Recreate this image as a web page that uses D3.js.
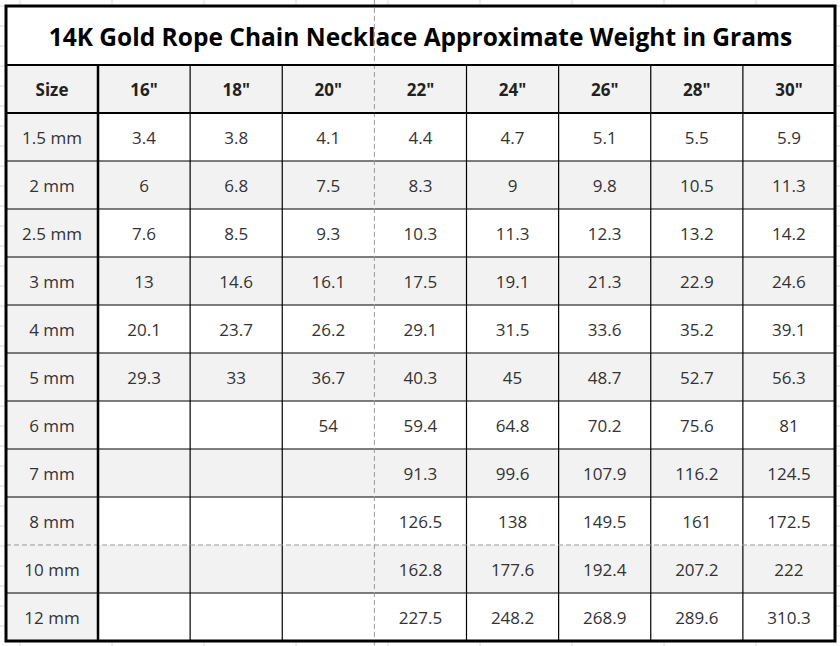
<!DOCTYPE html><html><head><meta charset="utf-8"><script src="https://cdn.jsdelivr.net/npm/d3@7"></script>
<style>body{margin:0;background:#fff}</style></head><body><svg id="c" width="840" height="646"></svg>
<script>
const title="14K Gold Rope Chain Necklace Approximate Weight in Grams";
const lengths=['16"','18"','20"','22"','24"','26"','28"','30"'];
const sizes=["1.5 mm","2 mm","2.5 mm","3 mm","4 mm","5 mm","6 mm","7 mm","8 mm","10 mm","12 mm"];
const weights=[
[3.4,3.8,4.1,4.4,4.7,5.1,5.5,5.9],
[6,6.8,7.5,8.3,9,9.8,10.5,11.3],
[7.6,8.5,9.3,10.3,11.3,12.3,13.2,14.2],
[13,14.6,16.1,17.5,19.1,21.3,22.9,24.6],
[20.1,23.7,26.2,29.1,31.5,33.6,35.2,39.1],
[29.3,33,36.7,40.3,45,48.7,52.7,56.3],
[null,null,54,59.4,64.8,70.2,75.6,81],
[null,null,null,91.3,99.6,107.9,116.2,124.5],
[null,null,null,126.5,138,149.5,161,172.5],
[null,null,null,162.8,177.6,192.4,207.2,222],
[null,null,null,227.5,248.2,268.9,289.6,310.3]];
const svg=d3.select("#c");
const L=6,R=835,T=6,TH=65,HB=113,RH=48;
const x=d3.scaleBand().domain(d3.range(8)).range([98,R]);
const y=d3.scaleBand().domain(d3.range(11)).range([HB,HB+RH*11]);
// excel background grid
for(let gx=20;gx<840;gx+=92)svg.append("line").attr("x1",gx).attr("x2",gx).attr("y1",0).attr("y2",646).attr("stroke","#dadada");
for(let gy=6;gy<646;gy+=20)svg.append("line").attr("x1",0).attr("x2",840).attr("y1",gy).attr("y2",gy).attr("stroke","#dadada");
svg.append("rect").attr("x",L).attr("y",T).attr("width",R-L).attr("height",HB+RH*11-T).attr("fill","#fff");
// fills
svg.append("rect").attr("x",L).attr("y",TH).attr("width",R-L).attr("height",HB-TH).attr("fill","#f2f2f2");
sizes.forEach((s,i)=>{
 svg.append("rect").attr("x",L).attr("y",y(i)).attr("width",i%2?R-L:98-L).attr("height",RH).attr("fill","#f2f2f2");
});
const font="Open Sans, sans-serif";
svg.append("text").attr("x",(L+R)/2).attr("y",36).attr("text-anchor","middle").attr("dominant-baseline","central")
 .attr("font-family",font).attr("font-weight","bold").attr("font-size",24.5).attr("fill","#000").text(title);
svg.append("text").attr("x",52).attr("y",89).attr("text-anchor","middle").attr("dominant-baseline","central").attr("font-family",font).attr("font-weight","bold").attr("font-size",17).attr("fill","#222").text("Size");
lengths.forEach((l,j)=>svg.append("text").attr("x",x(j)+x.bandwidth()/2).attr("y",89).attr("text-anchor","middle").attr("dominant-baseline","central").attr("font-family",font).attr("font-weight","bold").attr("font-size",17).attr("fill","#222").text(l));
sizes.forEach((s,i)=>{
 const cy=y(i)+RH/2;
 svg.append("text").attr("x",52).attr("y",cy).attr("text-anchor","middle").attr("dominant-baseline","central").attr("font-family",font).attr("font-size",17).attr("fill","#333").text(s);
 weights[i].forEach((v,j)=>{ if(v!==null) svg.append("text").attr("x",x(j)+x.bandwidth()/2).attr("y",cy).attr("text-anchor","middle").attr("dominant-baseline","central").attr("font-family",font).attr("font-size",17).attr("fill","#333").text(v);});
});
// grid lines
const B=HB+RH*11;
d3.range(1,11).forEach(i=>{ if(i!==9) svg.append("line").attr("x1",L).attr("x2",R).attr("y1",y(i)).attr("y2",y(i)).attr("stroke","#000").attr("stroke-width",1.2);});
d3.range(1,8).forEach(j=>{ if(j!==3) svg.append("line").attr("x1",x(j)).attr("x2",x(j)).attr("y1",TH).attr("y2",B).attr("stroke","#000").attr("stroke-width",1.2);});
svg.append("line").attr("x1",L).attr("x2",R).attr("y1",y(9)).attr("y2",y(9)).attr("stroke","#999").attr("stroke-dasharray","5,3");
svg.append("line").attr("x1",x(3)).attr("x2",x(3)).attr("y1",0).attr("y2",646).attr("stroke","#999").attr("stroke-dasharray","5,3");
svg.append("line").attr("x1",L).attr("x2",R).attr("y1",TH).attr("y2",TH).attr("stroke","#000").attr("stroke-width",2);
svg.append("line").attr("x1",L).attr("x2",R).attr("y1",HB).attr("y2",HB).attr("stroke","#000").attr("stroke-width",2);
svg.append("line").attr("x1",98).attr("x2",98).attr("y1",TH).attr("y2",B).attr("stroke","#000").attr("stroke-width",2.5);
svg.append("rect").attr("x",L).attr("y",T).attr("width",R-L).attr("height",B-T).attr("fill","none").attr("stroke","#000").attr("stroke-width",3);
</script></body></html>
